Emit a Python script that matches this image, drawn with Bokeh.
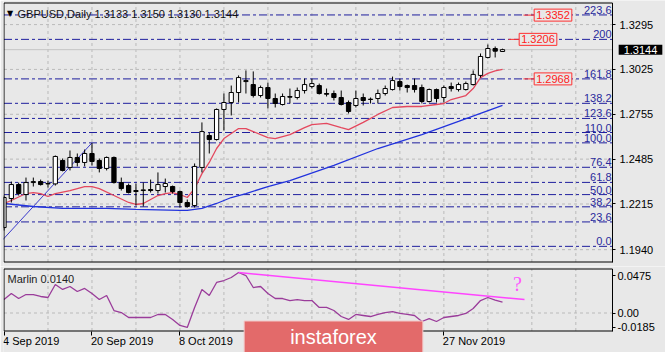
from bokeh.plotting import figure
from bokeh.models import (Range1d, FixedTicker, PrintfTickFormatter, Label,
                          CustomJSTickFormatter, ColumnDataSource)
from bokeh.layouts import column
from bokeh.embed import file_html
from bokeh.resources import INLINE

# ---------------- data ----------------
SYMBOL = "GBPUSD,Daily"
OPEN = [1.2073, 1.2248, 1.2332, 1.2272, 1.2344, 1.2350, 1.2338, 1.2336, 1.2477, 1.2435,
        1.2495, 1.2465, 1.2519, 1.2477, 1.2429, 1.2495, 1.2344, 1.2326, 1.2296, 1.2296,
        1.2302, 1.2296, 1.2320, 1.2320, 1.2290, 1.2224, 1.2206, 1.2435, 1.2627, 1.2603,
        1.2784, 1.2826, 1.2886, 1.2952, 1.2934, 1.2868, 1.2916, 1.2850, 1.2814, 1.2862,
        1.2856, 1.2898, 1.2922, 1.2928, 1.2880, 1.2880, 1.2856, 1.2826, 1.2808, 1.2856,
        1.2844, 1.2850, 1.2880, 1.2904, 1.2952, 1.2928, 1.2928, 1.2916, 1.2832, 1.2904,
        1.2856, 1.2922, 1.2904, 1.2904, 1.2934, 1.2989, 1.3097, 1.3151, 1.3133]
HIGH = [1.2266, 1.2350, 1.2344, 1.2374, 1.2374, 1.2362, 1.2356, 1.2507, 1.2489, 1.2537,
        1.2519, 1.2543, 1.2582, 1.2489, 1.2501, 1.2501, 1.2374, 1.2338, 1.2338, 1.2344,
        1.2362, 1.2405, 1.2368, 1.2326, 1.2296, 1.2242, 1.2459, 1.2706, 1.2645, 1.2790,
        1.2880, 1.2928, 1.2989, 1.3019, 1.3013, 1.2928, 1.2946, 1.2880, 1.2880, 1.2910,
        1.2916, 1.2970, 1.2970, 1.2940, 1.2910, 1.2898, 1.2898, 1.2838, 1.2898, 1.2880,
        1.2856, 1.2904, 1.2928, 1.2982, 1.2970, 1.2934, 1.2970, 1.2934, 1.2910, 1.2910,
        1.2928, 1.2946, 1.2946, 1.2952, 1.3019, 1.3121, 1.3175, 1.3163, 1.3150]
LOW = [1.2055, 1.2224, 1.2266, 1.2236, 1.2320, 1.2326, 1.2314, 1.2326, 1.2411, 1.2417,
       1.2441, 1.2441, 1.2447, 1.2405, 1.2417, 1.2338, 1.2296, 1.2278, 1.2206, 1.2200,
       1.2284, 1.2278, 1.2284, 1.2278, 1.2194, 1.2194, 1.2194, 1.2405, 1.2519, 1.2597,
       1.2657, 1.2748, 1.2826, 1.2880, 1.2856, 1.2856, 1.2790, 1.2796, 1.2808, 1.2820,
       1.2844, 1.2880, 1.2910, 1.2874, 1.2862, 1.2838, 1.2808, 1.2760, 1.2796, 1.2808,
       1.2820, 1.2820, 1.2868, 1.2898, 1.2898, 1.2886, 1.2886, 1.2820, 1.2826, 1.2826,
       1.2826, 1.2892, 1.2892, 1.2898, 1.2928, 1.2976, 1.3091, 1.3097, 1.3130]
CLOSE = [1.2254, 1.2332, 1.2278, 1.2344, 1.2350, 1.2332, 1.2336, 1.2501, 1.2417, 1.2495,
         1.2465, 1.2519, 1.2471, 1.2429, 1.2495, 1.2344, 1.2308, 1.2284, 1.2290, 1.2300,
         1.2296, 1.2332, 1.2338, 1.2290, 1.2224, 1.2200, 1.2441, 1.2651, 1.2603, 1.2784,
         1.2826, 1.2886, 1.2976, 1.2958, 1.2868, 1.2916, 1.2850, 1.2820, 1.2862, 1.2858,
         1.2898, 1.2934, 1.2940, 1.2880, 1.2876, 1.2856, 1.2814, 1.2772, 1.2850, 1.2838,
         1.2846, 1.2880, 1.2910, 1.2958, 1.2922, 1.2916, 1.2904, 1.2832, 1.2904, 1.2850,
         1.2916, 1.2910, 1.2934, 1.2940, 1.2995, 1.3103, 1.3151, 1.3135, 1.3144]

MA_FAST_X = [0, 1, 3, 4, 5, 6, 7, 9, 11, 12, 13, 15, 17, 18, 19, 21, 22, 23, 24, 25,
             26, 27, 28, 29, 30, 31, 32, 33, 34, 36, 37, 39, 41, 42, 44, 46, 47, 49,
             51, 53, 55, 57, 59, 60, 61, 63, 64, 65, 66, 67, 68]
MA_FAST_Y = [1.2218, 1.2236, 1.2278, 1.2284, 1.2278, 1.2260, 1.2278, 1.2296, 1.2320, 1.2320,
             1.2308, 1.2266, 1.2224, 1.2212, 1.2218, 1.2266, 1.2278, 1.2284, 1.2272, 1.2254,
             1.2308, 1.2398, 1.2465, 1.2549, 1.2609, 1.2639, 1.2669, 1.2669, 1.2651, 1.2615,
             1.2609, 1.2633, 1.2675, 1.2693, 1.2700, 1.2675, 1.2663, 1.2706, 1.2754, 1.2796,
             1.2802, 1.2802, 1.2814, 1.2820, 1.2844, 1.2868, 1.2910, 1.2976, 1.3001, 1.3016,
             1.3025]
MA_SLOW_X = [0, 4, 8, 14, 18, 24, 25, 27, 29, 31, 33, 36, 39, 45, 51, 57, 62, 65, 68]
MA_SLOW_Y = [1.2218, 1.2200, 1.2188, 1.2188, 1.2182, 1.2176, 1.2176, 1.2188, 1.2218, 1.2254,
             1.2278, 1.2320, 1.2356, 1.2447, 1.2549, 1.2633, 1.2712, 1.2760, 1.2808]

FIB_ANCHOR_X = [-1, 12]
FIB_ANCHOR_Y = [1.1960, 1.2583]
FIB_PCT = [0.0, 23.6, 38.2, 50.0, 61.8, 76.4, 100.0, 110.0, 123.6, 138.2, 161.8, 200.0, 223.6]
FIB_LABELS = ["0.0", "23.6", "38.2", "50.0", "61.8", "76.4", "100.0", "110.0", "123.6",
              "138.2", "161.8", "200", "223.6"]
PRICE_MARKS = [1.3352, 1.3206, 1.2968]

Y_TICKS = [1.3295, 1.3025, 1.2755, 1.2485, 1.2215, 1.1940]

MARLIN = [0.0173, 0.0250, 0.0186, 0.0237, 0.0237, 0.0212, 0.0199, 0.0366, 0.0302, 0.0340,
          0.0276, 0.0315, 0.0250, 0.0173, 0.0225, 0.0032, 0.0006, -0.0058, -0.0058, -0.0058,
          -0.0058, -0.0019, -0.0019, -0.0083, -0.0160, -0.0186, 0.0071, 0.0302, 0.0225, 0.0392,
          0.0417, 0.0456, 0.0520, 0.0481, 0.0327, 0.0340, 0.0250, 0.0186, 0.0186, 0.0160,
          0.0173, 0.0160, 0.0160, 0.0071, 0.0071, 0.0032, -0.0045, -0.0083, -0.0019, -0.0032,
          -0.0045, -0.0019, 0.0006, 0.0019, -0.0006, -0.0019, -0.0032, -0.0109, -0.0071, -0.0109,
          -0.0058, -0.0045, -0.0032, -0.0006, 0.0058, 0.0160, 0.0199, 0.0165, 0.0140]
DIV_X = [32, 71]
DIV_Y = [0.0520, 0.0173]
MARLIN_TICKS = [0.0475, 0.0, -0.0185]
MARLIN_LEVELS = [0.0]

X_TICK_IDX = [0, 12, 24, 60]
X_TICK_LABELS = ["4 Sep 2019", "20 Sep 2019", "8 Oct 2019", "27 Nov 2019"]
GRID_X = list(range(6, 84, 6))

# ---------------- style / geometry ----------------
BG = "#e8e8e8"
FONT = "Liberation Sans"
FS = "11px"
FIB_COLOR = "#1f1f9e"
GRID_COLOR = "#bababa"

PX_PER_BAR = 7.331       # horizontal pixels per bar
PX_BAR0 = 3.5            # pixel of the first bar


def xd(px):              # canvas pixel -> bar index
    return (px - PX_BAR0) / PX_PER_BAR


def yd(py):              # main panel canvas pixel -> price
    return 1.3440 - 0.000602 * py


def vd(py):              # indicator panel canvas pixel -> value
    return (312.5 - py) / 779.0


XL = 0.0                 # left panel border (bar index of pixel 3.5)
XR = xd(612)             # right panel border / price axis
x_range = Range1d(xd(3), xd(665))

# ---------------- main panel ----------------
TOP_B, BOT_B = yd(2.5), yd(261.5)
p = figure(width=665, height=266, x_range=x_range, y_range=Range1d(yd(266), yd(0)),
           output_backend="svg", toolbar_location=None,
           x_axis_location=None, y_axis_location="right",
           min_border_left=3, min_border_right=0, min_border_top=0, min_border_bottom=0,
           background_fill_color=BG, border_fill_color=BG, outline_line_color=None)
p.grid.visible = False

ya = p.yaxis[0]
ya.fixed_location = XR
ya.bounds = (BOT_B, TOP_B)
ya.ticker = FixedTicker(ticks=Y_TICKS)
ya.formatter = PrintfTickFormatter(format="%.4f")
ya.major_tick_out = 3
ya.major_tick_in = 0
ya.minor_tick_out = 0
ya.minor_tick_in = 0
ya.major_label_standoff = 4
ya.axis_line_color = "black"
ya.major_label_text_font = FONT
ya.major_label_text_font_size = FS
ya.major_label_text_color = "black"

# grid (dashed), inside the panel only
p.segment(x0=GRID_X, y0=[BOT_B] * len(GRID_X), x1=GRID_X, y1=[TOP_B] * len(GRID_X),
          line_color=GRID_COLOR, line_dash="3 3", line_width=1)
p.segment(x0=[XL] * len(Y_TICKS), y0=Y_TICKS, x1=[XR] * len(Y_TICKS), y1=Y_TICKS,
          line_color=GRID_COLOR, line_dash="3 3", line_width=1)

# bid line
p.segment(x0=[XL], y0=[CLOSE[-1]], x1=[XR], y1=[CLOSE[-1]], line_color="#c4c4c4", line_width=1)

# fibonacci levels
lo, hi = FIB_ANCHOR_Y
fib_levels = [lo + pct / 100.0 * (hi - lo) for pct in FIB_PCT]
p.segment(x0=[XL] * len(fib_levels), y0=fib_levels, x1=[XR] * len(fib_levels), y1=fib_levels,
          line_color=FIB_COLOR, line_dash="8 3 3 3", line_width=1)
for lvl, lab in zip(fib_levels, FIB_LABELS):
    p.add_layout(Label(x=XR, y=lvl, x_offset=-1, y_offset=1, text=lab,
                       text_align="right", text_baseline="bottom", text_color="#2a2a9c",
                       text_font=FONT, text_font_size=FS))
p.line(FIB_ANCHOR_X, FIB_ANCHOR_Y, line_color="#3a3acc", line_width=1)

# moving averages
p.line(MA_SLOW_X, MA_SLOW_Y, line_color="#2233dd", line_width=1.3)
p.line(MA_FAST_X, MA_FAST_Y, line_color="#e4485e", line_width=1.3)

# candles
idx = list(range(len(OPEN)))
src = ColumnDataSource(dict(
    x=idx, high=HIGH, low=LOW,
    top=[max(o, c) for o, c in zip(OPEN, CLOSE)],
    bottom=[min(o, c) for o, c in zip(OPEN, CLOSE)],
    fill=["white" if c >= o else "black" for o, c in zip(OPEN, CLOSE)],
))
p.segment(x0="x", y0="high", x1="x", y1="low", source=src, line_color="black", line_width=1)
p.vbar(x="x", width=0.58, top="top", bottom="bottom", source=src,
       fill_color="fill", line_color="black", line_width=1)

# panel border
p.line([XL, XL, XR, XR, XL], [BOT_B, TOP_B, TOP_B, BOT_B, BOT_B], line_color="black", line_width=1)

# price marks (red boxes with leaders)
box_x = [xd(552.5), xd(537.5), xd(552.5)]
lead_x0 = [xd(523), xd(508), xd(523)]
lead_x1 = [xd(534), xd(519), xd(534)]
p.segment(x0=lead_x0, y0=PRICE_MARKS, x1=lead_x1, y1=PRICE_MARKS, line_color="#ff3030", line_width=1)
for bx, pm in zip(box_x, PRICE_MARKS):
    p.add_layout(Label(x=bx, y=pm, text=f"{pm:.4f}", text_align="center", text_baseline="middle",
                       text_color="#ff2020", text_font=FONT, text_font_size=FS,
                       border_line_color="#ff3030", border_line_width=1,
                       background_fill_color=BG, padding=2))

# bid label on the price axis
p.add_layout(Label(x=xd(640), y=CLOSE[-1], text=f"{CLOSE[-1]:.4f}", text_align="center",
                   text_baseline="middle", text_color="white", text_font=FONT, text_font_size=FS,
                   background_fill_color="black", padding=(5, 5, 1, 1)))

# title
p.add_layout(Label(x=xd(9.5), y=yd(12.5), text="\u25bc", text_align="center", text_baseline="middle",
                   text_color="black", text_font="DejaVu Sans", text_font_size="8px"))
p.add_layout(Label(x=xd(17), y=yd(13),
                   text=f"{SYMBOL}  {OPEN[-1]:.4f} {HIGH[-1]:.4f} {LOW[-1]:.4f} {CLOSE[-1]:.4f}",
                   text_align="left", text_baseline="middle", text_color="#111111",
                   text_font=FONT, text_font_size=FS))

# ---------------- indicator panel ----------------
QTOP, QBOT = vd(268.5), vd(330.5)
q = figure(width=665, height=86, x_range=x_range, y_range=Range1d(vd(352), vd(266)),
           output_backend="svg", toolbar_location=None, y_axis_location="right",
           min_border_left=3, min_border_right=0, min_border_top=0, min_border_bottom=0,
           background_fill_color=BG, border_fill_color=BG, outline_line_color=None)
q.grid.visible = False

qa = q.yaxis[0]
qa.fixed_location = XR
qa.bounds = (QBOT, QTOP)
qa.ticker = FixedTicker(ticks=MARLIN_TICKS)
qa.formatter = PrintfTickFormatter(format="%.4f")
qa.major_label_overrides = {0: "0.00"}
qa.major_tick_out = 3
qa.major_tick_in = 0
qa.minor_tick_out = 0
qa.minor_tick_in = 0
qa.major_label_standoff = 2
qa.axis_line_color = "black"
qa.major_label_text_font = FONT
qa.major_label_text_font_size = FS
qa.major_label_text_color = "black"

xa = q.xaxis[0]
xa.fixed_location = QBOT
xa.ticker = FixedTicker(ticks=X_TICK_IDX)
xa.formatter = CustomJSTickFormatter(code="return ''")
xa.major_tick_out = 4
xa.major_tick_in = 0
xa.minor_tick_out = 0
xa.minor_tick_in = 0
xa.axis_line_color = None
xa.major_tick_line_color = "black"

q.segment(x0=GRID_X, y0=[QBOT] * len(GRID_X), x1=GRID_X, y1=[QTOP] * len(GRID_X),
          line_color=GRID_COLOR, line_dash="3 3", line_width=1)
q.segment(x0=[XL] * len(MARLIN_LEVELS), y0=MARLIN_LEVELS, x1=[XR] * len(MARLIN_LEVELS),
          y1=MARLIN_LEVELS, line_color=GRID_COLOR, line_dash="3 3", line_width=1)

q.line(idx, MARLIN, line_color="#9a3c9a", line_width=1.3)
q.line(DIV_X, DIV_Y, line_color="#ff44ff", line_width=1.5)
q.line([XL, XL, XR, XR, XL], [QBOT, QTOP, QTOP, QBOT, QBOT], line_color="black", line_width=1)

q.add_layout(Label(x=xd(517), y=vd(283), text="?", text_align="center", text_baseline="middle",
                   text_color="#ff55ff", text_font="Liberation Serif", text_font_size="20px"))
q.add_layout(Label(x=xd(7), y=vd(278), text=f"Marlin {MARLIN[-1]:.4f}", text_align="left",
                   text_baseline="middle", text_color="#222222", text_font=FONT, text_font_size=FS))

# date labels, left-aligned at their tick
for t, lab in zip(X_TICK_IDX, X_TICK_LABELS):
    q.add_layout(Label(x=t, y=vd(340), x_offset=-1, text=lab, text_align="left",
                       text_baseline="middle", text_color="black", text_font=FONT,
                       text_font_size=FS))

# watermark
q.add_layout(Label(x=xd(333), y=vd(337), text="instaforex",
                   text_align="center", text_baseline="middle", text_color="white",
                   text_font=FONT, text_font_size="20px", background_fill_color="#e36a6a",
                   border_line_color="#f3c8c8", border_line_width=1,
                   padding=(46, 46, 5, 6)))

layout = column(p, q, spacing=0)
open("out.html", "w").write(file_html(layout, INLINE))
